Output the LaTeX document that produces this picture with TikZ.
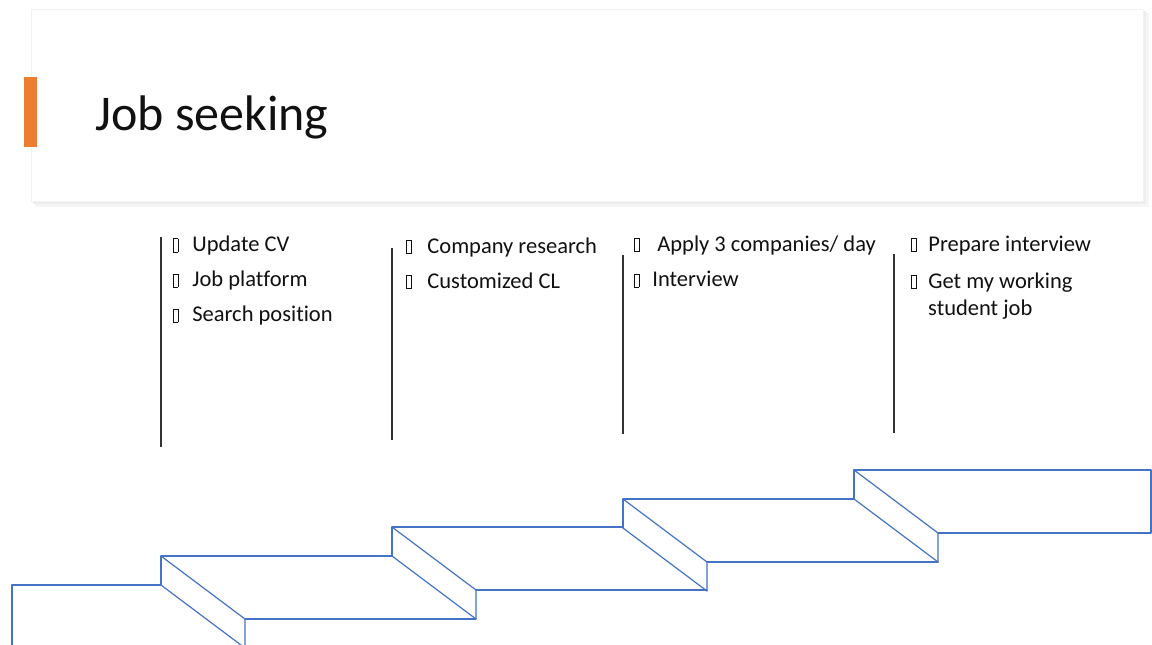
\documentclass[tikz,border=0pt]{standalone}
\usepackage{fontspec}
\setmainfont{Carlito}[Ligatures={NoCommon}]
\definecolor{stairblue}{HTML}{4472C4}
\definecolor{accent}{HTML}{ED7D31}
\definecolor{ink}{HTML}{111111}
\newcommand\tofu{{\setlength\fboxsep{0pt}\setlength\fboxrule{0.7pt}\fbox{\rule{0pt}{12.5pt}\rule{3.8pt}{0pt}}}}
\tikzset{
  itemtext/.style={anchor=base west, inner sep=0pt, text=ink, font=\fontsize{22.5}{27}\selectfont},
  titletext/.style={anchor=base west, inner sep=0pt, text=ink, font=\fontsize{50}{60}\selectfont},
  divider/.style={draw=black!80, line width=1.1pt},
  stair/.style={draw=stairblue, line width=1.2pt, line join=round, line cap=round}
}
\begin{document}
\begin{tikzpicture}[x=1pt,y=-1pt]
\useasboundingbox (0,0) rectangle (1152,645);
\fill[white] (0,0) rectangle (1152,645);
% title card with soft shadow
\fill[black!4] (35,13) rectangle (1149,207);
\fill[black!7] (33,11) rectangle (1146,204);
\filldraw[fill=white, draw=black!5, line width=0.6pt] (31,9) rectangle (1143,201);
\fill[accent] (24,77) rectangle (37,147);
\node[titletext] (title) at (95,130.7) {Job seeking};
% column 1
\draw[divider] (161,237) -- (161,447);
\node[itemtext] (c1a) at (173,251.5) {\tofu\hspace*{14pt}Update CV};
\node[itemtext] (c1b) at (173,286.8) {\tofu\hspace*{14pt}Job platform};
\node[itemtext] (c1c) at (173,321.8) {\tofu\hspace*{14pt}Search position};
% column 2
\draw[divider] (392,248) -- (392,440);
\node[itemtext] (c2a) at (406,253.3) {\tofu\hspace*{16pt}Company research};
\node[itemtext] (c2b) at (406,288.3) {\tofu\hspace*{16pt}Customized CL};
% column 3
\draw[divider] (623,255) -- (623,434);
\node[itemtext] (c3a) at (634,251.2) {\tofu\hspace*{18pt}Apply 3 companies/ day};
\node[itemtext] (c3b) at (634,286.7) {\tofu\hspace*{13pt}Interview};
% column 4
\draw[divider] (894,254) -- (894,433);
\node[itemtext] (c4a) at (911,251.2) {\tofu\hspace*{12pt}Prepare interview};
\node[itemtext] (c4b) at (911,288.3) {\tofu\hspace*{12pt}Get my working};
\node[itemtext] (c4c) at (928,315) {student job};
% stairs
\draw[stair] (12,648) -- (12,585) -- (161,585);
\foreach \L/\T/\N in {161/556/392, 392/527/623, 623/499/854}{
  \draw[stair] (\L,\T) -- (\N,\T);
  \draw[stair] (\L,\T) -- (\L,\T+29);
  \draw[stair] (\L,\T) -- (\L+84,\T+63) -- (\L+84,\T+92);
  \draw[stair] (\L,\T+29) -- (\L+84,\T+92);
  \draw[stair] (\L+84,\T+63) -- (\N+84,\T+63);
}
\draw[stair] (854,499) -- (854,470) -- (1151,470) -- (1151,533) -- (938,533);
\draw[stair] (854,470) -- (938,533) -- (938,562);
\draw[stair] (854,499) -- (938,562);
\end{tikzpicture}
\end{document}
